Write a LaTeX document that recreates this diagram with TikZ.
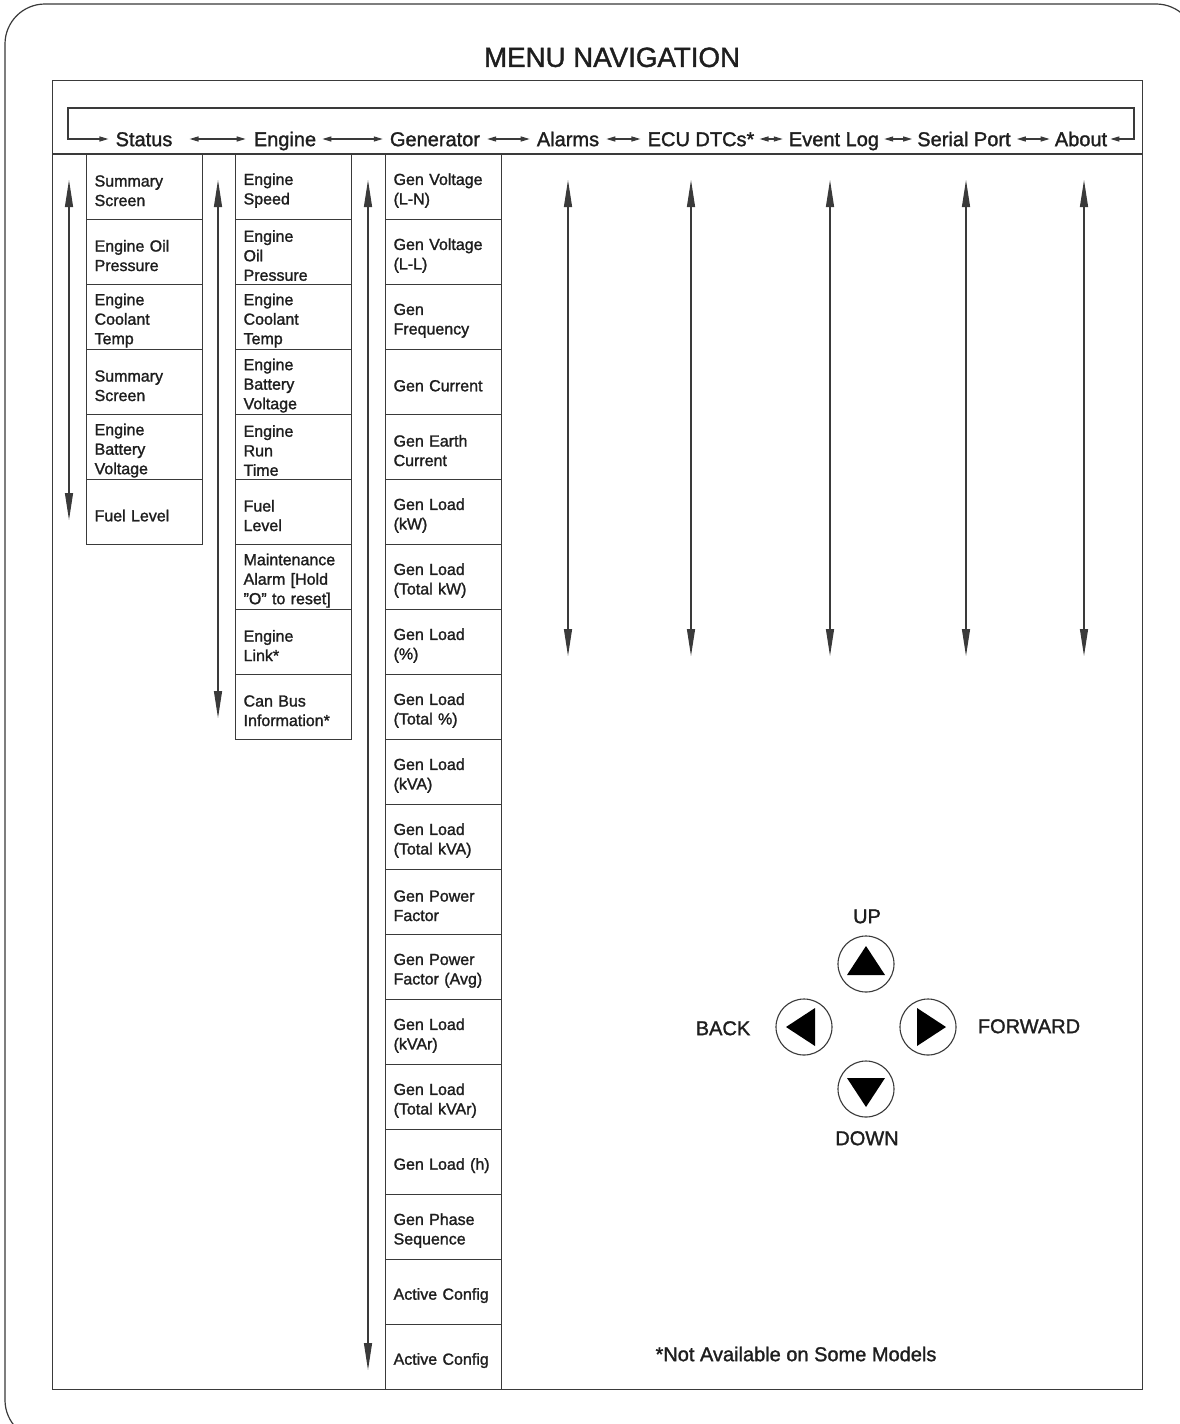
\documentclass[tikz,border=0pt]{standalone}
\usepackage{fontspec}
\setmainfont{Liberation Sans}[FakeBold=1.4]
\usetikzlibrary{arrows.meta}
\definecolor{ink}{HTML}{3A3A3A}
\definecolor{txt}{HTML}{1E1E1E}
\begin{document}
\begin{tikzpicture}[x=1pt,y=-1pt,
  ln/.style={draw=ink,line width=1.3pt},
  cell/.style={draw=ink,line width=1.2pt,minimum width=116pt,minimum height=65pt,
    text width=100pt,inner xsep=8pt,inner ysep=0pt,align=left,anchor=north west,
    font=\fontsize{16}{19.5}\selectfont,text=txt},
  head/.style={font=\fontsize{20}{24}\selectfont,text=txt,inner xsep=3pt,inner ysep=0pt,
    text height=14.3pt,text depth=0pt},
  lbl/.style={font=\fontsize{20}{24}\selectfont,text=txt,inner sep=0pt,
    text height=14.3pt,text depth=0pt},
  varrow/.style={draw=ink,line width=1.2pt,
    {Triangle[length=27pt,width=8pt]}-{Triangle[length=27pt,width=8pt]}},
  harrow/.style={draw=ink,line width=1.2pt,
    {Triangle[length=9pt,width=5pt]}-{Triangle[length=9pt,width=5pt]}},
  btn/.style={circle,draw=ink,line width=1.1pt,minimum size=56pt,inner sep=0pt},
  tri/.style={fill=black},
]
\useasboundingbox (0,0) rectangle (1180,1424);
\fill[white] (0,0) rectangle (1180,1424);
% outer rounded border
\begin{scope}
\clip (0,0) rectangle (1180,1424);
\draw[ln,line width=1.2pt,rounded corners=40pt] (5,4) rectangle (1196,1440);
\end{scope}

% title
\node[font=\fontsize{27.7}{32}\selectfont,text=txt,inner sep=0pt,text height=19.8pt,text depth=0pt] (title) at (612,57) {MENU NAVIGATION};

% inner frame
\node[ln,minimum width=1090pt,minimum height=1309pt,inner sep=0pt,anchor=north west] (frame) at (52,80) {};
\coordinate (sepL) at (52,154);
\coordinate (sepR) at (1142,154);
\draw[ln] (sepL) -- (sepR);

% header items
\node[head] (hStatus) at (144,139) {Status};
\node[head] (hEngine) at (285,139) {Engine};
\node[head] (hGen) at (435,139) {Generator};
\node[head] (hAlarms) at (568,139) {Alarms};
\node[head] (hECU) at (701,139) {ECU DTCs*};
\node[head] (hEvent) at (834,139) {Event Log};
\node[head] (hSerial) at (964,139) {Serial Port};
\node[head] (hAbout) at (1081,139) {About};

\draw[harrow,shorten <=14pt,shorten >=5pt] (hStatus.east) -- (hEngine.west);
\draw[harrow,shorten <=3pt,shorten >=4pt] (hEngine.east) -- (hGen.west);
\draw[harrow,shorten <=4pt,shorten >=4pt] (hGen.east) -- (hAlarms.west);
\draw[harrow,shorten <=4pt,shorten >=4pt] (hAlarms.east) -- (hECU.west);
\draw[harrow,shorten <=2pt,shorten >=3pt] (hECU.east) -- (hEvent.west);
\draw[harrow,shorten <=2pt,shorten >=2pt] (hEvent.east) -- (hSerial.west);
\draw[harrow,shorten <=3pt,shorten >=2pt] (hSerial.east) -- (hAbout.west);

% loop back
\coordinate (loopL) at (68,108);
\coordinate (loopR) at (1134,108);
\draw[harrow,shorten >=4pt] (hAbout.east) -- (hAbout.east -| loopR) -- (loopR) -- (loopL) -- (loopL |- hStatus.west) -- (hStatus.west);

% Status column
\foreach \t [count=\i from 0] in {{Summary\\Screen},{Engine Oil\\Pressure},{Engine\\Coolant\\Temp},{Summary\\Screen},{Engine\\Battery\\Voltage},{Fuel Level}}
  \node[cell] (s\i) at (86,{154+65*\i}) {\rule{0pt}{18.5pt}\t};

% Engine column
\foreach \t [count=\i from 0] in {{Engine\\Speed},{Engine\\Oil\\Pressure},{Engine\\Coolant\\Temp},{Engine\\Battery\\Voltage},{Engine\\Run\\Time},{Fuel\\Level},{Maintenance\\Alarm [Hold\\\symbol{34}O\symbol{34} to reset]},{Engine\\Link*},{Can Bus\\Information*}}
  \node[cell] (e\i) at (235,{154+65*\i}) {\rule{0pt}{18.5pt}\t};

% Generator column
\foreach \t [count=\i from 0] in {{Gen Voltage\\(L-N)},{Gen Voltage\\(L-L)},{Gen\\Frequency},{Gen Current},{Gen Earth\\Current},{Gen Load\\(kW)},{Gen Load\\(Total kW)},{Gen Load\\(\%)},{Gen Load\\(Total \%)},{Gen Load\\(kVA)},{Gen Load\\(Total kVA)},{Gen Power\\Factor},{Gen Power\\Factor (Avg)},{Gen Load\\(kVAr)},{Gen Load\\(Total kVAr)},{Gen Load (h)},{Gen Phase\\Sequence},{Active Config},{Active Config}}
  \node[cell] (g\i) at (385,{154+65*\i}) {\rule{0pt}{18.5pt}\t};

% vertical scroll arrows
\coordinate (vsT) at (69,180);   \coordinate (vsB) at (69,520);
\coordinate (veT) at (218,180);  \coordinate (veB) at (218,718);
\coordinate (vgT) at (368,180);  \coordinate (vgB) at (368,1370);
\coordinate (vaT) at (568,180);  \coordinate (vaB) at (568,656);
\coordinate (vcT) at (691,180);  \coordinate (vcB) at (691,656);
\coordinate (vlT) at (830,180);  \coordinate (vlB) at (830,656);
\coordinate (vpT) at (966,180);  \coordinate (vpB) at (966,656);
\coordinate (vbT) at (1084,180); \coordinate (vbB) at (1084,656);
\foreach \p in {vs,ve,vg,va,vc,vl,vp,vb}
  \draw[varrow] (\p T) -- (\p B);

% buttons
\node[btn] (up) at (866,964) {};
\node[btn] (back) at (804,1027) {};
\node[btn] (fwd) at (928,1027) {};
\node[btn] (down) at (866,1089) {};
\fill[tri,shift={(up.center)}] (0,-18) -- (19,11) -- (-19,11) -- cycle;
\fill[tri,shift={(down.center)}] (0,18) -- (19,-11) -- (-19,-11) -- cycle;
\fill[tri,shift={(back.center)}] (-18,0) -- (11,-19) -- (11,19) -- cycle;
\fill[tri,shift={(fwd.center)}] (18,0) -- (-11,-19) -- (-11,19) -- cycle;

\node[lbl] (lup) at (867,916) {UP};
\node[lbl] (ldown) at (867,1138) {DOWN};
\node[lbl] (lback) at (723,1028) {BACK};
\node[lbl] (lfwd) at (1029,1026) {FORWARD};

\node[lbl] (note) at (796,1354) {*Not Available on Some Models};
\end{tikzpicture}
\end{document}
